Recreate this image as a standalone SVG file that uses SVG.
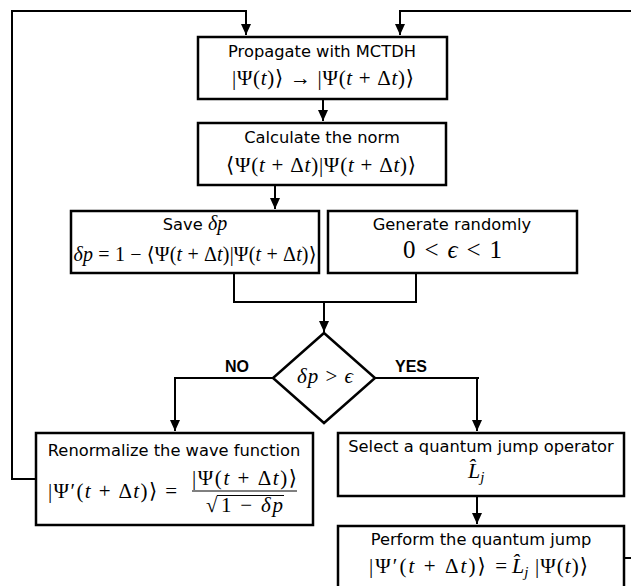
<svg xmlns="http://www.w3.org/2000/svg" width="631" height="586" viewBox="0 0 631 586">
<style>
.box{fill:#fff;stroke:#000;stroke-width:2.5}
.c{fill:none;stroke:#000;stroke-width:2}
.lbl{font-family:"DejaVu Sans",Verdana,sans-serif;font-size:16.3px;text-anchor:middle;fill:#000}
.m{font-family:"Liberation Serif","DejaVu Serif",serif;font-size:21px;text-anchor:middle;fill:#000}
.s{text-anchor:start}
.i{font-style:italic}
.b{font-family:"DejaVu Serif",serif}
.yn{font-family:"Liberation Sans",Arial,sans-serif;font-weight:bold;font-size:16px;fill:#000}
</style>
<defs>
<marker id="ah" markerUnits="userSpaceOnUse" markerWidth="12" markerHeight="12" refX="11" refY="6" orient="auto">
<path d="M0,1 L11,6 L0,11 z" fill="#000"/>
</marker>
</defs>
<rect width="631" height="586" fill="#fff"/>
<g id="connectors">
<path class="c" d="M37,479 H12 V11 H246 V35" marker-end="url(#ah)"/>
<path class="c" d="M640,11 H400 V35" marker-end="url(#ah)"/>
<path class="c" d="M323,99 V121" marker-end="url(#ah)"/>
<path class="c" d="M275,185 V209" marker-end="url(#ah)"/>
<path class="c" d="M234,273 V302 H416 V273"/>
<path class="c" d="M324,302 V332" marker-end="url(#ah)"/>
<path class="c" d="M273,378 H175 V431" marker-end="url(#ah)"/>
<path class="c" d="M375,378 H479 M477,378 V431" marker-end="url(#ah)"/>
<path class="c" d="M477,496 V524" marker-end="url(#ah)"/>
<path class="c" d="M624,558 H640"/>
<text class="yn" x="225" y="372">NO</text>
<text class="yn" x="395" y="372">YES</text>
</g>
<g id="propagate">
<rect class="box" x="198" y="37" width="249" height="62"/>
<text class="lbl" x="322" y="57">Propagate with MCTDH</text>
<text class="m" x="323" y="85" textLength="182">|Ψ(<tspan class="i">t</tspan>)<tspan class="b">⟩</tspan> → |Ψ(<tspan class="i">t</tspan> + Δ<tspan class="i">t</tspan>)<tspan class="b">⟩</tspan></text>
</g>
<g id="norm">
<rect class="box" x="198" y="123" width="248" height="62"/>
<text class="lbl" x="322" y="143">Calculate the norm</text>
<text class="m" x="321" y="172" textLength="190"><tspan class="b">⟨</tspan>Ψ(<tspan class="i">t</tspan> + Δ<tspan class="i">t</tspan>)|Ψ(<tspan class="i">t</tspan> + Δ<tspan class="i">t</tspan>)<tspan class="b">⟩</tspan></text>
</g>
<g id="save">
<rect class="box" x="71" y="211" width="248" height="62"/>
<text class="lbl" x="195" y="230">Save <tspan class="i" style="font-family:'Liberation Serif',serif;font-size:20px">δp</tspan></text>
<text class="m" x="195" y="261" textLength="243" style="font-size:20px"><tspan class="i">δp</tspan> = 1 − <tspan class="b">⟨</tspan>Ψ(<tspan class="i">t</tspan> + Δ<tspan class="i">t</tspan>)|Ψ(<tspan class="i">t</tspan> + Δ<tspan class="i">t</tspan>)<tspan class="b">⟩</tspan></text>
</g>
<g id="generate">
<rect class="box" x="328" y="211" width="249" height="62"/>
<text class="lbl" x="452" y="230">Generate randomly</text>
<text class="m" x="452.5" y="258" textLength="99" style="font-size:25px">0 &lt; <tspan class="i">ϵ</tspan> &lt; 1</text>
</g>
<g id="decision">
<polygon class="box" points="324,333 375,378 324,423 273,378"/>
<text class="m" x="325" y="383" textLength="56"><tspan class="i">δp</tspan> &gt; <tspan class="i">ϵ</tspan></text>
</g>
<g id="renormalize">
<rect class="box" x="36" y="433" width="277" height="92"/>
<text class="lbl" x="174" y="456">Renormalize the wave function</text>
<text class="m" x="112.5" y="498" textLength="129">|Ψ′(<tspan class="i">t</tspan> + Δ<tspan class="i">t</tspan>)<tspan class="b">⟩</tspan> =</text>
<text class="m" x="244.5" y="485" textLength="105">|Ψ(<tspan class="i">t</tspan> + Δ<tspan class="i">t</tspan>)<tspan class="b">⟩</tspan></text>
<line x1="192" y1="491" x2="297" y2="491" stroke="#000" stroke-width="1"/>
<text class="m s" x="206" y="512">√</text>
<line x1="217" y1="495.5" x2="284" y2="495.5" stroke="#000" stroke-width="1"/>
<text class="m" x="252" y="512" textLength="62">1 − <tspan class="i">δp</tspan></text>
</g>
<g id="select">
<rect class="box" x="338" y="433" width="286" height="63"/>
<text class="lbl" x="481" y="452">Select a quantum jump operator</text>
<text class="m i s" x="468" y="478" style="font-size:22px">L&#x302;<tspan style="font-size:15px" dy="4">j</tspan></text>
</g>
<g id="perform">
<rect class="box" x="338" y="526" width="286" height="80"/>
<text class="lbl" x="481" y="545">Perform the quantum jump</text>
<text class="m s" x="369" y="573" textLength="138">|Ψ′(<tspan class="i">t</tspan> + Δ<tspan class="i">t</tspan>)<tspan class="b">⟩</tspan> =</text>
<text class="m i s" x="512" y="573" style="font-size:22px">L&#x302;<tspan style="font-size:15px" dy="4">j</tspan></text>
<text class="m s" x="535" y="573" textLength="53">|Ψ(<tspan class="i">t</tspan>)<tspan class="b">⟩</tspan></text>
</g>
</svg>
